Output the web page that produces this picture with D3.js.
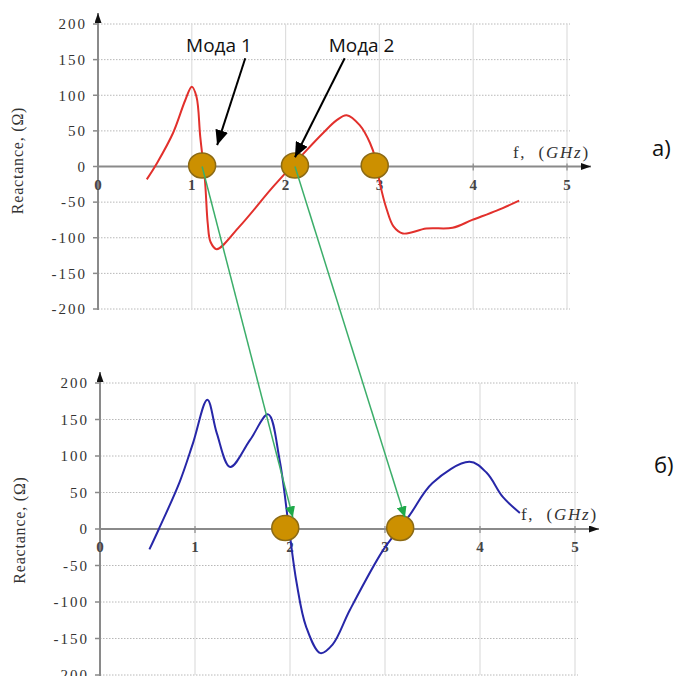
<!DOCTYPE html>
<html>
<head>
<meta charset="utf-8">
<script src="https://cdn.jsdelivr.net/npm/d3@7"></script>
<style>
  body { margin: 0; background: #fff; }
  svg { display: block; }
</style>
</head>
<body>
<div id="chart"></div>
<script>
// frequency ticks (GHz) and reactance ticks (Ohm)
const xTicks = [0, 1, 2, 3, 4, 5];
const yTicks = [200, 150, 100, 50, 0, -50, -100, -150, -200];

// panel a) – red curve
const freqA = [0.52, 0.63, 0.8, 0.93, 1.0, 1.05, 1.09, 1.14, 1.17, 1.2, 1.265, 1.51, 1.87, 2.225, 2.4, 2.545, 2.65, 2.79, 2.9, 2.96, 3.006, 3.08, 3.15, 3.25, 3.5, 3.78, 3.99, 4.25, 4.49];
const reactA = [-18, 5, 47, 93, 112, 98, 42, -19, -80, -106, -116, -84, -28, 23, 47, 65, 72, 58, 33, 10, -24, -61, -84, -94, -87, -86, -75, -62, -48];

// panel б) – blue curve
const freqB = [0.52, 0.62, 0.84, 0.98, 1.13, 1.23, 1.37, 1.58, 1.77, 1.89, 1.99, 2.07, 2.17, 2.32, 2.45, 2.63, 2.98, 3.15, 3.26, 3.5, 3.89, 4.07, 4.24, 4.42];
const reactB = [-28, 0, 65, 118, 177, 131, 85, 122, 157, 95, 0, -74, -134, -170, -158, -111, -29, 0, 19, 63, 92, 77, 44, 22];

// zero crossings marked with circles
const crossA = [1.11, 2.1, 2.95];
const crossB = [1.95, 3.16];

// mode labels and their arrows (data units of panel a)
const modeNames = ["Мода 1", "Мода 2"];
const modeLabelF = [1.29, 2.81];
const modeLabelR = 161;
const modeArrowFrom = [[1.57, 152], [2.63, 152]];
const modeArrowTo = [[1.27, 30], [2.1, 13]];

// green links: top circle index -> point in panel б)
const linkFrom = [0, 1];
const linkTo = [[2.03, 16], [3.21, 16]];

const panelTags = ["а)", "б)"];

const width = 680, height = 676;
const svg = d3.select("#chart").append("svg")
    .attr("width", width)
    .attr("height", height);

const defs = svg.append("defs");
function addMarker(id, color, len, wid) {
    defs.append("marker")
        .attr("id", id)
        .attr("markerUnits", "userSpaceOnUse")
        .attr("viewBox", `0 0 ${len} ${wid}`)
        .attr("refX", len)
        .attr("refY", wid / 2)
        .attr("markerWidth", len)
        .attr("markerHeight", wid)
        .attr("orient", "auto")
      .append("path")
        .attr("d", `M0,0L${len},${wid / 2}L0,${wid}Z`)
        .attr("fill", color);
}
addMarker("axisHead", "#111", 10, 7);
addMarker("modeHead", "#000", 15, 13);
addMarker("greenHead", "#1faa4a", 11, 10);

const serif = "'Liberation Serif', 'DejaVu Serif', serif";

function drawPanel(cfg, freq, react, color, cross, tag) {
    const x = d3.scaleLinear().domain([0, 5]).range([cfg.left, cfg.right]);
    const y = d3.scaleLinear().domain([-200, 200]).range([cfg.bottom, cfg.top]);
    const g = svg.append("g");

    // grid
    g.selectAll(".hgrid").data(yTicks.filter(d => d !== 0)).enter().append("line")
        .attr("x1", x(0)).attr("x2", x(5) + 3)
        .attr("y1", d => y(d)).attr("y2", d => y(d))
        .attr("stroke", "#b8b8b8").attr("stroke-width", 1)
        .attr("stroke-dasharray", "1.5,1.5");
    g.selectAll(".vgrid").data(xTicks.slice(1)).enter().append("line")
        .attr("x1", d => x(d)).attr("x2", d => x(d))
        .attr("y1", y(200)).attr("y2", y(-200))
        .attr("stroke", "#dedede").attr("stroke-width", 1.2);

    // axes
    g.append("line")
        .attr("x1", x(0)).attr("x2", cfg.xArrow)
        .attr("y1", y(0)).attr("y2", y(0))
        .attr("stroke", "#8a8a8a").attr("stroke-width", 2)
        .attr("marker-end", "url(#axisHead)");
    g.append("line")
        .attr("x1", x(0)).attr("x2", x(0))
        .attr("y1", y(-200) + 1).attr("y2", y(200) - 11)
        .attr("stroke", "#8a8a8a").attr("stroke-width", 2)
        .attr("marker-end", "url(#axisHead)");
    g.selectAll(".ytick").data(yTicks).enter().append("line")
        .attr("x1", x(0) - 5).attr("x2", x(0))
        .attr("y1", d => y(d)).attr("y2", d => y(d))
        .attr("stroke", "#8a8a8a").attr("stroke-width", 1.5);
    g.selectAll(".xtick").data(xTicks.slice(1)).enter().append("line")
        .attr("x1", d => x(d)).attr("x2", d => x(d))
        .attr("y1", y(0) - 3).attr("y2", y(0) + 4)
        .attr("stroke", "#8a8a8a").attr("stroke-width", 1.2);

    g.selectAll(".ylab").data(yTicks).enter().append("text")
        .attr("x", x(0) - 11).attr("y", d => y(d))
        .attr("dy", "0.35em")
        .attr("text-anchor", "end")
        .style("font-family", serif).style("font-size", "15px")
        .style("letter-spacing", "2px")
        .attr("fill", "#333")
        .text(d => d);
    g.selectAll(".xlab").data(xTicks).enter().append("text")
        .attr("x", d => x(d)).attr("y", y(0) + 23)
        .attr("text-anchor", "middle")
        .style("font-family", serif).style("font-size", "15px")
        .style("font-weight", "bold")
        .attr("fill", "#444")
        .text(d => d);

    const fl = g.append("text")
        .attr("x", cfg.xArrow - 1).attr("y", y(0) - 9)
        .attr("text-anchor", "end")
        .style("font-family", serif).style("font-size", "17px")
        .style("letter-spacing", "1.8px")
        .attr("fill", "#333")
        .attr("xml:space", "preserve");
    fl.append("tspan").text("f,  (");
    fl.append("tspan").style("font-style", "italic").text("GHz");
    fl.append("tspan").text(")");

    g.append("text")
        .attr("transform", `translate(${cfg.left - 81},${y(0) + cfg.labelShift}) rotate(-90)`)
        .attr("dy", "0.35em")
        .attr("text-anchor", "middle")
        .style("font-family", serif).style("font-size", "16px")
        .style("letter-spacing", "0.8px")
        .attr("fill", "#333")
        .text("Reactance, (Ω)");

    // curve
    const pts = freq.map((f, i) => [f, react[i]]);
    g.append("path")
        .datum(pts)
        .attr("fill", "none")
        .attr("stroke", color)
        .attr("stroke-width", 2)
        .attr("d", d3.line().x(d => x(d[0])).y(d => y(d[1])).curve(d3.curveCatmullRom.alpha(0.5)));

    // zero crossing markers
    g.selectAll(".cross").data(cross).enter().append("ellipse")
        .attr("cx", d => x(d)).attr("cy", y(0) - 1)
        .attr("rx", 13.5).attr("ry", 12.5)
        .attr("fill", "#cc9000")
        .attr("stroke", "#8c6a14").attr("stroke-width", 1.5);

    svg.append("text")
        .attr("x", cfg.tagX).attr("y", cfg.tagY)
        .style("font-family", "'Open Sans', sans-serif").style("font-size", "22px")
        .attr("fill", "#111")
        .text(tag);

    return { x, y };
}

const panelA = drawPanel({ left: 98, right: 567, top: 24, bottom: 309, xArrow: 591, tagX: 652, tagY: 156, labelShift: -6 },
    freqA, reactA, "#e2302c", crossA, panelTags[0]);
const panelB = drawPanel({ left: 100, right: 575, top: 383, bottom: 675, xArrow: 599, tagX: 654, tagY: 473, labelShift: 1 },
    freqB, reactB, "#2727a8", crossB, panelTags[1]);

// green links between the panels
svg.selectAll(".link").data(linkFrom).enter().append("line")
    .attr("x1", d => panelA.x(crossA[d])).attr("y1", panelA.y(0))
    .attr("x2", (d, i) => panelB.x(linkTo[i][0])).attr("y2", (d, i) => panelB.y(linkTo[i][1]))
    .attr("stroke", "#3cae6a").attr("stroke-width", 1.5)
    .attr("marker-end", "url(#greenHead)");

// mode annotations
svg.selectAll(".modeLab").data(modeNames).enter().append("text")
    .attr("x", (d, i) => panelA.x(modeLabelF[i])).attr("y", panelA.y(modeLabelR))
    .attr("text-anchor", "middle")
    .style("font-family", "'Open Sans', sans-serif").style("font-size", "19px")
    .attr("fill", "#111")
    .text(d => d);
svg.selectAll(".modeArrow").data(modeArrowFrom).enter().append("line")
    .attr("x1", d => panelA.x(d[0])).attr("y1", d => panelA.y(d[1]))
    .attr("x2", (d, i) => panelA.x(modeArrowTo[i][0])).attr("y2", (d, i) => panelA.y(modeArrowTo[i][1]))
    .attr("stroke", "#000").attr("stroke-width", 2)
    .attr("marker-end", "url(#modeHead)");
</script>
</body>
</html>
